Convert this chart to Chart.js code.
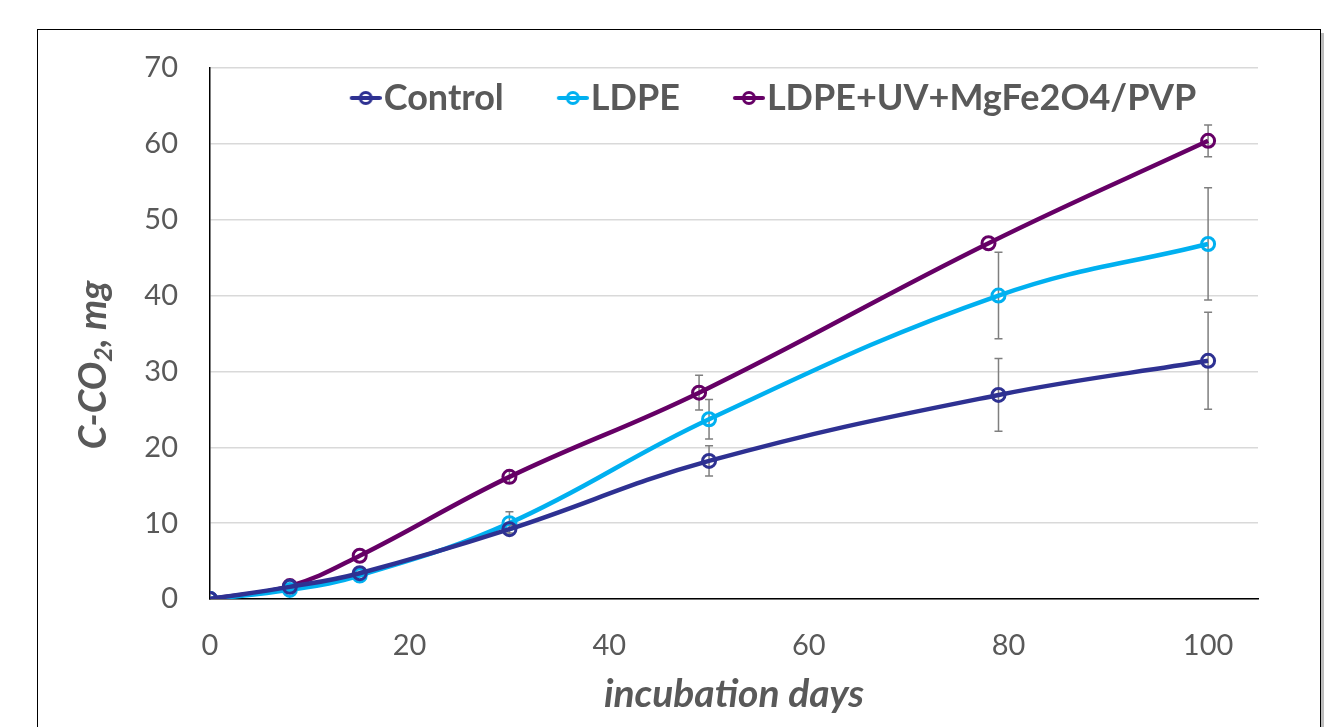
<!DOCTYPE html>
<html>
<head>
<meta charset="utf-8">
<script src="https://cdn.jsdelivr.net/npm/chart.js@4.4.0/dist/chart.umd.min.js"></script>
<style>
  html, body { margin: 0; padding: 0; background: #fff; }
  #wrap { position: relative; width: 1325px; height: 727px; overflow: hidden; }
  #frame { position: absolute; left: 37px; top: 29px; width: 1282px; height: 760px;
           border: 1.5px solid #000; box-shadow: 3px 4px 0 #bdbdbd; }
  #chart { position: absolute; left: 0; top: 0; }
</style>
</head>
<body>
<div id="wrap">
  <div id="frame"></div>
  <canvas id="chart" width="1325" height="727"></canvas>
</div>
<script>
// values
const controlDays = [0, 8, 15, 30, 50, 79, 100];
const controlCO2 = [0, 1.6, 3.4, 9.2, 18.2, 26.9, 31.4];
const controlErr = [0, 0, 0, 0.5, 2.0, 4.8, 6.4];

const ldpeDays = [0, 8, 15, 30, 50, 79, 100];
const ldpeCO2 = [0, 1.2, 3.1, 10.0, 23.7, 40.0, 46.8];
const ldpeErr = [0, 0, 0, 1.5, 2.6, 5.7, 7.4];

const uvDays = [0, 8, 15, 30, 49, 78, 100];
const uvCO2 = [0, 1.7, 5.7, 16.1, 27.2, 46.9, 60.4];
const uvErr = [0, 0, 0, 0.8, 2.3, 0, 2.1];

const seriesNames = ["Control", "LDPE", "LDPE+UV+MgFe2O4/PVP"];
const seriesColors = ["#2E3192", "#00B0F0", "#660066"];

const xTicks = [0, 20, 40, 60, 80, 100];

const textGray = "#595959";
const FONT = "Lato, 'Open Sans', sans-serif";
const LEG_W = 58;
const LEG_PAD = 11;

function toPoints(xs, ys) {
  return xs.map((x, i) => ({ x: x, y: ys[i] }));
}

// legend marker: short line with a hollow circle
function makeMarker(color) {
  const c = document.createElement("canvas");
  c.width = LEG_W + 32;
  c.height = 20;
  const g = c.getContext("2d");
  g.strokeStyle = color;
  g.lineWidth = 4;
  g.lineCap = "round";
  g.beginPath();
  g.moveTo(LEG_W + 2, 10);
  g.lineTo(LEG_W + 30, 10);
  g.stroke();
  g.lineWidth = 3;
  g.beginPath();
  g.arc(LEG_W + 16, 10, 5.5, 0, Math.PI * 2);
  g.stroke();
  return c;
}
const markers = seriesColors.map(makeMarker);

// vertical error bars under the lines
const errorBars = {
  id: "errorBars",
  beforeDatasetsDraw(chart) {
    const { ctx, scales } = chart;
    ctx.save();
    ctx.strokeStyle = "#7F7F7F";
    ctx.lineWidth = 1.5;
    chart.data.datasets.forEach(ds => {
      ds.data.forEach((p, i) => {
        const e = ds.errors[i];
        if (!e) return;
        const x = scales.x.getPixelForValue(p.x);
        const yt = scales.y.getPixelForValue(p.y + e);
        const yb = scales.y.getPixelForValue(p.y - e);
        ctx.beginPath();
        ctx.moveTo(x, yt); ctx.lineTo(x, yb);
        ctx.moveTo(x - 4, yt); ctx.lineTo(x + 4, yt);
        ctx.moveTo(x - 4, yb); ctx.lineTo(x + 4, yb);
        ctx.stroke();
      });
    });
    ctx.restore();
  }
};

// move the legend down into the plot, like the original
const legendShift = {
  id: "legendShift",
  afterLayout(chart) {
    const lg = chart.legend;
    const h = lg.bottom - lg.top;
    lg.top = 69;
    lg.bottom = lg.top + h;
    lg.left += 123;
    lg.right += 123;
  }
};

// y axis title with a real subscript
const yTitle = {
  id: "yTitle",
  afterDraw(chart) {
    const ctx = chart.ctx;
    const big = "italic bold 38px " + FONT;
    const small = "italic bold 25px " + FONT;
    ctx.save();
    ctx.font = big;
    const w1 = ctx.measureText("C-CO").width;
    const w3 = ctx.measureText(", mg").width;
    ctx.font = small;
    const w2 = ctx.measureText("2").width;
    const total = w1 + w2 + w3;
    ctx.translate(94, 365);
    ctx.rotate(-Math.PI / 2);
    ctx.fillStyle = textGray;
    ctx.textBaseline = "middle";
    ctx.textAlign = "left";
    let x = -total / 2;
    ctx.font = big;
    ctx.fillText("C-CO", x, 0);
    x += w1;
    ctx.font = small;
    ctx.fillText("2", x, 10);
    x += w2;
    ctx.font = big;
    ctx.fillText(", mg", x, 0);
    ctx.restore();
  }
};

const ds = (i, xs, ys, errs) => ({
  label: seriesNames[i],
  data: toPoints(xs, ys),
  errors: errs,
  borderColor: seriesColors[i],
  backgroundColor: "rgba(0,0,0,0)",
  borderWidth: 4.5,
  tension: 0.4,
  pointRadius: 6.5,
  pointBorderWidth: 3,
  pointBackgroundColor: "rgba(0,0,0,0)",
  pointBorderColor: seriesColors[i]
});

new Chart(document.getElementById("chart"), {
  type: "scatter",
  data: {
    datasets: [
      ds(0, controlDays, controlCO2, controlErr),
      ds(1, ldpeDays, ldpeCO2, ldpeErr),
      ds(2, uvDays, uvCO2, uvErr)
    ]
  },
  options: {
    responsive: false,
    animation: false,
    showLine: true,
    layout: { padding: { top: 11, right: 67, bottom: 0, left: 0 } },
    plugins: {
      tooltip: { enabled: false },
      legend: {
        position: "top",
        align: "center",
        labels: {
          usePointStyle: true,
          pointStyleWidth: LEG_W,
          padding: LEG_PAD,
          color: textGray,
          font: { family: FONT, size: 36, weight: "bold" },
          generateLabels(chart) {
            const items = Chart.defaults.plugins.legend.labels.generateLabels(chart);
            items.forEach((it, i) => { it.pointStyle = markers[i]; });
            return items;
          }
        }
      }
    },
    scales: {
      x: {
        type: "linear",
        min: 0,
        max: 105,
        afterFit(scale) { scale.height = 128; },
        afterBuildTicks(scale) { scale.ticks = xTicks.map(v => ({ value: v })); },
        grid: { display: false, drawTicks: false },
        border: { display: true, color: "#000", width: 1.5 },
        ticks: {
          padding: 29,
          color: textGray,
          font: { family: FONT, size: 29 }
        },
        title: {
          display: true,
          text: "incubation days",
          color: textGray,
          padding: { top: 0, bottom: 9 },
          font: { family: FONT, size: 39, weight: "bold", style: "italic" }
        }
      },
      y: {
        min: 0,
        max: 70,
        afterFit(scale) { scale.width = 210; },
        grid: { color: "#D9D9D9", lineWidth: 1.5, drawTicks: false },
        border: { display: true, color: "#000", width: 1.5 },
        ticks: {
          stepSize: 10,
          padding: 32,
          color: textGray,
          font: { family: FONT, size: 29 }
        }
      }
    }
  },
  plugins: [legendShift, errorBars, yTitle]
});
</script>
</body>
</html>
